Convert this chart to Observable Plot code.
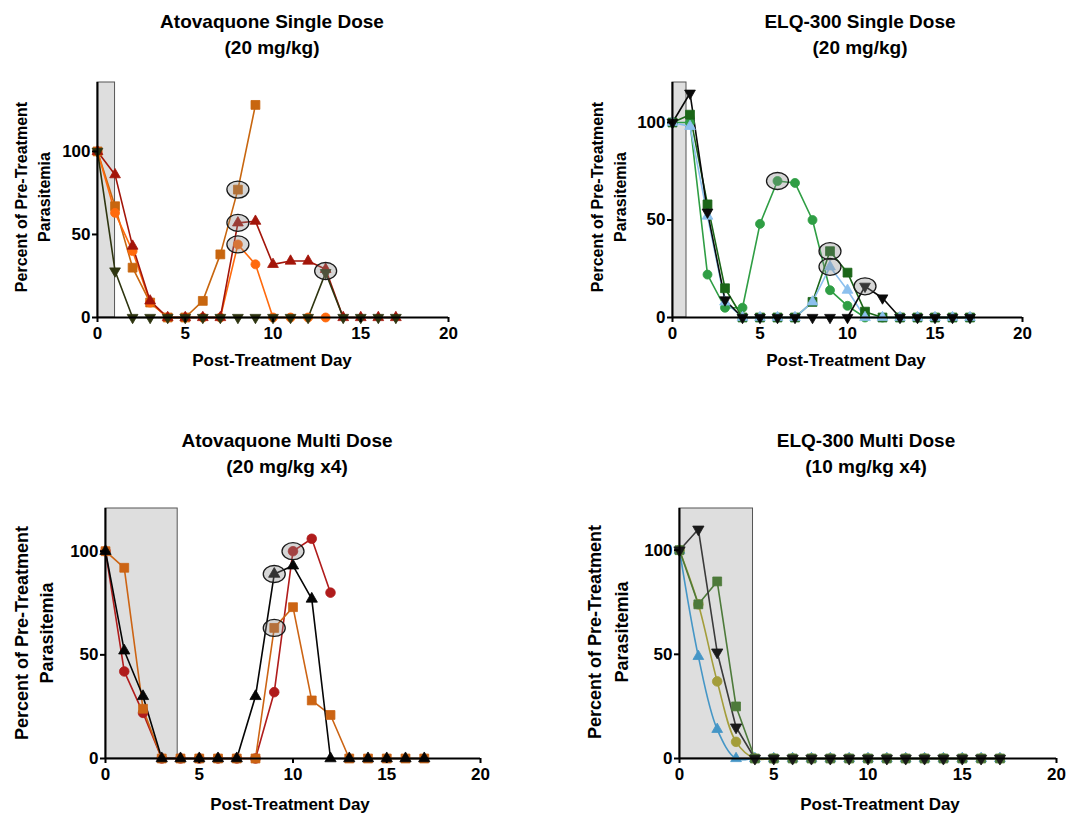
<!DOCTYPE html>
<html>
<head>
<meta charset="utf-8">
<script src="https://cdn.jsdelivr.net/npm/d3@7"></script>
<script src="https://cdn.jsdelivr.net/npm/@observablehq/plot@0.6"></script>
<style>
  html, body { margin: 0; padding: 0; background: #fff; }
  #root { position: relative; width: 1067px; height: 815px; font-family: "Liberation Sans", Arial, sans-serif; color: #000; overflow: hidden; }
  .panel { position: absolute; }
  .panel svg text { font-size: 17px; font-weight: bold; }
  .title { position: absolute; font-weight: bold; font-size: 19px; text-align: center; line-height: 26px; white-space: nowrap; transform: translateX(-50%); }
  .xlab { position: absolute; font-weight: bold; font-size: 17px; white-space: nowrap; transform: translate(-50%, -50%); }
  .ylab { position: absolute; font-weight: bold; white-space: nowrap; text-align: center; transform: translate(-50%, -50%) rotate(-90deg); }
</style>
</head>
<body>
<div id="root"></div>
<script>
// ---------------- DATA ----------------
const days = [0,1,2,3,4,5,6,7,8,9,10,11,12,13,14,15,16,17];
const xTicks = [0,5,10,15,20];
const yTicks = [0,50,100];

// Atovaquone Single Dose (20 mg/kg)
const atqSingleSquare = [100,67,30,9,0,0,10,38,77,128];
const atqSingleCircle = [100,63,40,9,0,0,0,0,44,32,0,0,0,0];
const atqSingleTriangle = [100,86,43,10,0,0,0,0,57,58,32,34,34,29,0,0,0,0];
const atqSingleInverted = [100,28,0,0,0,0,0,0,0,0,0,0,0,27,0,0,0,0];
const atqSingleCircledDays = [8,8,8,13];
const atqSingleCircledValues = [77,57,44,28];

// ELQ-300 Single Dose (20 mg/kg)
const elqSingleCircle = [100,100,22,5,5,48,70,69,50,14,6,0,0,0,0,0,0,0];
const elqSingleSquare = [100,104,58,15,0,0,0,0,8,34,23,3,0,0,0,0,0,0];
const elqSingleTriangle = [100,98,52,8,0,0,0,0,8,26,14,0,0,0,0,0,0,0];
const elqSingleInverted = [100,115,54,9,0,0,0,0,0,0,0,16,10,0,0,0,0,0];
const elqSingleCircledDays = [6,9,9,11];
const elqSingleCircledValues = [70,34,26,16];

// Atovaquone Multi Dose (20 mg/kg x4)
const atqMultiSquare = [100,92,24,0,0,0,0,0,0,63,73,28,21,0,0,0,0,0];
const atqMultiCircle = [100,42,22,0,0,0,0,0,0,32,100,106,80];
const atqMultiTriangle = [100,52,30,0,0,0,0,0,30,89,93,77,0,0,0,0,0,0];
const atqMultiCircledDays = [9,10,9];
const atqMultiCircledValues = [89,100,63];

// ELQ-300 Multi Dose (10 mg/kg x4)
const elqMultiTriangle = [100,49,14,0,0,0,0,0,0,0,0,0,0,0,0,0,0,0];
const elqMultiCircle = [100,74,37,8,0,0,0,0,0,0,0,0,0,0,0,0,0,0];
const elqMultiSquare = [100,74,85,25,0,0,0,0,0,0,0,0,0,0,0,0,0,0];
const elqMultiInverted = [100,110,51,15,0,0,0,0,0,0,0,0,0,0,0,0,0,0];

// treatment windows (days)
const shadeSingleAtq = 1;
const shadeSingleElq = 0.8;
const shadeMultiAtq = 3.85;
const shadeMultiElq = 3.9;

// ---------------- DRAWING ----------------
const toRows = vals => vals.map((v, i) => ({day: days[i], value: v}));
const toCircled = (ds, vs) => ds.map((d, i) => ({day: d, value: vs[i]}));

const ellipseSymbol = {
  draw(ctx) {
    const rx = 11, ry = 8.5, k = 0.5523;
    ctx.moveTo(rx, 0);
    ctx.bezierCurveTo(rx, ry * k, rx * k, ry, 0, ry);
    ctx.bezierCurveTo(-rx * k, ry, -rx, ry * k, -rx, 0);
    ctx.bezierCurveTo(-rx, -ry * k, -rx * k, -ry, 0, -ry);
    ctx.bezierCurveTo(rx * k, -ry, rx, -ry * k, rx, 0);
    ctx.closePath();
  }
};

function makePanel(cfg) {
  const marks = [
    Plot.rect([{x1: 0, x2: cfg.shade, y1: 0, y2: cfg.ymax}], {
      x1: d => d.x1, x2: d => d.x2, y1: d => d.y1, y2: d => d.y2,
      fill: "#dedede", stroke: "#555", strokeWidth: 1
    })
  ];
  for (const s of cfg.series) {
    const rows = toRows(s.values);
    marks.push(Plot.line(rows, {x: "day", y: "value", stroke: s.color, strokeWidth: 1.6, curve: s.curve || "linear"}));
  }
  for (const s of cfg.series) {
    const rows = toRows(s.values);
    marks.push(Plot.dot(rows, {
      x: "day", y: "value", symbol: s.symbol, r: s.r || 5,
      fill: s.markerColor || s.color, stroke: s.markerColor || s.color, strokeWidth: 0.8,
      rotate: s.inverted ? 180 : 0
    }));
  }
  if (cfg.circled) {
    marks.push(Plot.dot(cfg.circled, {
      x: "day", y: "value", symbol: ellipseSymbol, r: 8,
      fill: "#8a8a8a", fillOpacity: 0.35, stroke: "#1a1a1a", strokeWidth: 1.3
    }));
  }
  marks.push(
    Plot.ruleY([0], {stroke: "#000", strokeWidth: 2}),
    Plot.ruleX([0], {stroke: "#000", strokeWidth: 2}),
    Plot.axisX({ticks: xTicks, tickSize: 5, tickPadding: 4, strokeWidth: 2, fontSize: 17, fontWeight: "bold", label: null, tickFormat: d => String(d)}),
    Plot.axisY({ticks: yTicks, tickSize: 5, tickPadding: 2, strokeWidth: 2, fontSize: 17, fontWeight: "bold", label: null, tickFormat: d => String(d)})
  );
  const svg = Plot.plot({
    width: cfg.width, height: cfg.height,
    marginLeft: cfg.ml, marginRight: cfg.mr, marginTop: cfg.mt, marginBottom: cfg.mb,
    x: {domain: [0, 20]},
    y: {domain: [0, cfg.ymax]},
    style: {fontFamily: "Liberation Sans, Arial, sans-serif", fontSize: "17px", color: "#000", background: "transparent", overflow: "visible"},
    marks
  });
  const wrap = document.createElement("div");
  wrap.className = "panel";
  wrap.style.left = cfg.left + "px";
  wrap.style.top = cfg.top + "px";
  wrap.appendChild(svg);
  root.appendChild(wrap);
}

function addText(cls, html, x, y, extra) {
  const d = document.createElement("div");
  d.className = cls;
  d.innerHTML = html;
  d.style.left = x + "px";
  d.style.top = y + "px";
  if (extra) Object.assign(d.style, extra);
  root.appendChild(d);
}

const root = document.getElementById("root");

// Panel 1: Atovaquone Single Dose
makePanel({
  left: 0, top: 0, width: 533, height: 400, ml: 97, mr: 85, mt: 82, mb: 83, ymax: 141.5,
  shade: shadeSingleAtq,
  series: [
    {values: atqSingleSquare, color: "#c8660f", symbol: "square"},
    {values: atqSingleCircle, color: "#ff6a0d", symbol: "circle", r: 4.5},
    {values: atqSingleTriangle, color: "#a3150a", symbol: "triangle", r: 4},
    {values: atqSingleInverted, color: "#2e3510", symbol: "triangle", r: 4, inverted: true}
  ],
  circled: toCircled(atqSingleCircledDays, atqSingleCircledValues)
});

// Panel 2: ELQ-300 Single Dose
makePanel({
  left: 533, top: 0, width: 534, height: 400, ml: 139, mr: 45, mt: 82, mb: 83, ymax: 120.5,
  shade: shadeSingleElq,
  series: [
    {values: elqSingleCircle, color: "#2f9e44", symbol: "circle", r: 4.5},
    {values: elqSingleSquare, color: "#1b6618", symbol: "square"},
    {values: elqSingleTriangle, color: "#8cc0ee", symbol: "triangle", r: 4},
    {values: elqSingleInverted, color: "#0a0a0a", symbol: "triangle", r: 4, inverted: true}
  ],
  circled: toCircled(elqSingleCircledDays, elqSingleCircledValues)
});

// Panel 3: Atovaquone Multi Dose
makePanel({
  left: 0, top: 400, width: 533, height: 415, ml: 105, mr: 53, mt: 108, mb: 57, ymax: 120.6,
  shade: shadeMultiAtq,
  series: [
    {values: atqMultiCircle, color: "#b01c1c", symbol: "circle", r: 4.8},
    {values: atqMultiSquare, color: "#cc6414", symbol: "square"},
    {values: atqMultiTriangle, color: "#050505", symbol: "triangle", r: 4.2}
  ],
  circled: toCircled(atqMultiCircledDays, atqMultiCircledValues)
});

// Panel 4: ELQ-300 Multi Dose
makePanel({
  left: 533, top: 400, width: 534, height: 415, ml: 146, mr: 11, mt: 108, mb: 57, ymax: 120,
  shade: shadeMultiElq,
  series: [
    {values: elqMultiTriangle, color: "#4596c6", symbol: "triangle", r: 4, curve: "catmull-rom"},
    {values: elqMultiCircle, color: "#a39d3a", symbol: "circle", r: 4.8, curve: "catmull-rom"},
    {values: elqMultiSquare, color: "#4d7a3a", symbol: "square"},
    {values: elqMultiInverted, color: "#3a3a3a", markerColor: "#1a1a1a", symbol: "triangle", r: 4.2, inverted: true}
  ]
});

// Titles
addText("title", "Atovaquone Single Dose<br>(20 mg/kg)", 272, 9);
addText("title", "ELQ-300 Single Dose<br>(20 mg/kg)", 860, 9);
addText("title", "Atovaquone Multi Dose<br>(20 mg/kg x4)", 287, 428);
addText("title", "ELQ-300 Multi Dose<br>(10 mg/kg x4)", 866, 428);

// X axis labels
addText("xlab", "Post-Treatment Day", 272, 361);
addText("xlab", "Post-Treatment Day", 846, 361);
addText("xlab", "Post-Treatment Day", 290, 805);
addText("xlab", "Post-Treatment Day", 880, 805);

// Y axis labels
addText("ylab", "Percent of Pre-Treatment<br>Parasitemia", 33, 197, {fontSize: "16px", lineHeight: "23px"});
addText("ylab", "Percent of Pre-Treatment<br>Parasitemia", 609, 197, {fontSize: "16px", lineHeight: "23px"});
addText("ylab", "Percent of Pre-Treatment<br>Parasitemia", 35, 633, {fontSize: "18px", lineHeight: "25px"});
addText("ylab", "Percent of Pre-Treatment<br>Parasitemia", 609, 632, {fontSize: "18px", lineHeight: "27px"});
</script>
</body>
</html>
